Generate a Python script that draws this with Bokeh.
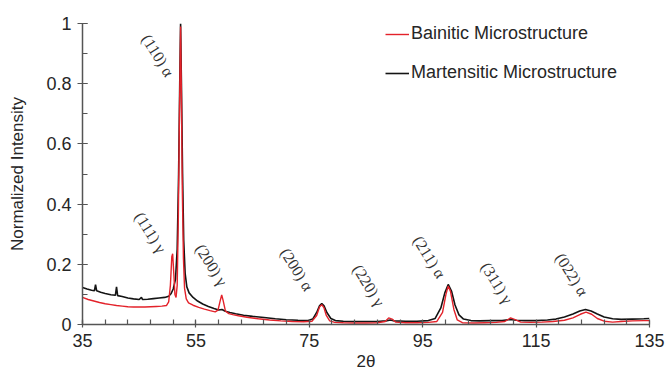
from bokeh.plotting import figure
from bokeh.models import FixedTicker, CustomJSTickFormatter, Legend, LegendItem
from bokeh.core.properties import value
from bokeh.embed import file_html
from bokeh.resources import INLINE

# Martensitic microstructure (black)
two_theta_m = [35.0, 35.8, 36.6, 37.1, 37.3, 37.5, 38.2, 39.0, 40.0, 40.8, 41.0, 41.2, 42.0, 43.0, 44.0,
               45.0, 45.4, 45.6, 46.5, 47.5, 48.5, 49.5, 50.2, 50.6, 51.0, 51.4, 51.7, 51.95, 52.15, 52.3,
               52.45, 52.65, 52.85, 53.1, 53.4, 53.8, 54.5, 55.3, 56.2, 57.2, 58.2, 59.0, 59.6, 60.2, 61.0,
               62.0, 63.4, 65.0, 67.0, 69.0, 71.0, 73.0, 74.8, 75.6, 76.3, 76.8, 77.2, 77.6, 78.1, 78.8,
               79.6, 81.0, 83.0, 85.0, 87.0, 88.5, 89.3, 90.0, 92.0, 94.0, 96.0, 97.2, 98.2, 98.9, 99.5,
               100.1, 100.7, 101.4, 102.2, 103.5, 105.0, 107.0, 109.0, 110.5, 111.5, 113.0, 115.0, 117.0,
               118.5, 120.0, 121.5, 122.7, 123.7, 124.7, 125.8, 127.0, 128.5, 130.0, 132.0, 134.0, 135.0]
intensity_m = [0.123, 0.118, 0.114, 0.112, 0.132, 0.112, 0.107, 0.103, 0.099, 0.097, 0.125, 0.096, 0.093, 0.088, 0.085,
               0.083, 0.090, 0.083, 0.084, 0.086, 0.088, 0.090, 0.094, 0.102, 0.118, 0.150, 0.250, 0.500, 0.800, 1.000,
               0.800, 0.500, 0.280, 0.170, 0.125, 0.105, 0.090, 0.078, 0.068, 0.060, 0.053, 0.048, 0.050, 0.044, 0.040,
               0.036, 0.031, 0.027, 0.023, 0.019, 0.016, 0.014, 0.013, 0.018, 0.040, 0.062, 0.070, 0.062, 0.040, 0.020,
               0.013, 0.011, 0.010, 0.010, 0.010, 0.012, 0.015, 0.012, 0.011, 0.011, 0.013, 0.020, 0.055, 0.105, 0.133,
               0.110, 0.065, 0.032, 0.018, 0.013, 0.012, 0.013, 0.013, 0.017, 0.014, 0.013, 0.013, 0.015,
               0.018, 0.025, 0.035, 0.045, 0.050, 0.045, 0.035, 0.025, 0.019, 0.017, 0.018, 0.019, 0.020]

# Bainitic microstructure (red)
two_theta_b = [35.0, 36.0, 37.0, 38.0, 39.0, 40.0, 41.0, 42.0, 43.0, 44.0, 45.0, 46.0, 47.0, 48.0, 49.0,
               49.8, 50.2, 50.5, 50.75, 50.9, 51.1, 51.3, 51.5, 51.7, 51.9, 52.1, 52.3, 52.45, 52.6, 52.8,
               53.0, 53.3, 53.7, 54.5, 55.5, 56.5, 57.5, 58.4, 58.9, 59.3, 59.55, 59.8, 60.2, 60.8, 61.5,
               62.5, 64.0, 66.0, 68.0, 70.0, 72.0, 74.0, 75.5, 76.3, 76.8, 77.2, 77.6, 78.0, 78.6, 79.5,
               81.0, 83.0, 85.0, 87.0, 88.4, 89.0, 89.6, 90.2, 92.0, 94.0, 96.0, 97.5, 98.5, 99.1, 99.5,
               99.9, 100.5, 101.1, 102.0, 104.0, 106.0, 108.0, 109.5, 110.5, 111.3, 112.3, 114.0, 116.0,
               118.0, 120.0, 121.5, 122.8, 123.8, 124.8, 125.8, 127.0, 128.5, 130.0, 132.0, 134.0, 135.0]
intensity_b = [0.090, 0.083, 0.078, 0.073, 0.069, 0.066, 0.063, 0.061, 0.059, 0.058, 0.058, 0.058, 0.059, 0.060, 0.061,
               0.063, 0.075, 0.130, 0.225, 0.235, 0.170, 0.100, 0.090, 0.130, 0.350, 0.700, 0.990, 0.750, 0.450, 0.220,
               0.120, 0.085, 0.072, 0.064, 0.057, 0.051, 0.046, 0.042, 0.048, 0.080, 0.098, 0.080, 0.045, 0.036, 0.033,
               0.029, 0.024, 0.019, 0.015, 0.012, 0.010, 0.009, 0.011, 0.030, 0.058, 0.066, 0.055, 0.030, 0.012, 0.007,
               0.006, 0.005, 0.005, 0.006, 0.010, 0.022, 0.018, 0.008, 0.006, 0.006, 0.007, 0.010, 0.040, 0.100, 0.128,
               0.110, 0.050, 0.015, 0.006, 0.005, 0.006, 0.007, 0.010, 0.022, 0.016, 0.008, 0.007, 0.008,
               0.010, 0.014, 0.022, 0.034, 0.041, 0.034, 0.020, 0.011, 0.008, 0.010, 0.012, 0.013, 0.013]

# Peak labels
peak_names = ["(111) γ", "(110) α", "(200) γ", "(200) α", "(220) γ", "(211) α", "(311) γ", "(022) α"]
peak_x = [47.0, 48.3, 57.75, 72.8, 85.5, 96.2, 108.1, 121.3]
peak_y = [0.306, 0.894, 0.198, 0.183, 0.130, 0.224, 0.138, 0.166]

x_ticks = [35, 55, 75, 95, 115, 135]
x_minor_ticks = [35 + 4 * i for i in range(26)]
y_ticks = [0, 0.2, 0.4, 0.6, 0.8, 1.0]
y_minor_ticks = [0.1 * i for i in range(11)]

p = figure(width=667, height=376, x_range=(35, 135), y_range=(0, 1),
           output_backend="svg", toolbar_location=None,
           min_border_left=82, min_border_right=18, min_border_top=23, min_border_bottom=52)
p.background_fill_color = "white"
p.border_fill_color = "white"
p.outline_line_color = None
p.grid.visible = False

black_r = p.line(two_theta_m, intensity_m, line_color="#141414", line_width=1.6)
red_r = p.line(two_theta_b, intensity_b, line_color="#e3222a", line_width=1.4)

p.text(x=peak_x, y=peak_y, text=peak_names, angle=-58, angle_units="deg",
       text_font=value("Liberation Serif"), text_font_size="16px",
       text_align="center", text_baseline="middle", text_color="#333333")

for ax in (p.xaxis[0], p.yaxis[0]):
    ax.axis_line_color = "#555555"
    ax.axis_line_width = 1.5
    ax.major_tick_line_color = "#555555"
    ax.minor_tick_line_color = "#555555"
    ax.major_tick_line_width = 1.2
    ax.minor_tick_line_width = 1.2
    ax.major_label_text_font = "Liberation Sans"
    ax.major_label_text_font_size = "18px"
    ax.major_label_text_color = "#262626"
    ax.axis_label_text_font = "Liberation Sans"
    ax.axis_label_text_font_style = "normal"
    ax.axis_label_text_color = "#262626"

p.xaxis.ticker = FixedTicker(ticks=x_ticks, minor_ticks=x_minor_ticks)
p.xaxis.major_tick_in = 4
p.xaxis.major_tick_out = 3
p.xaxis.minor_tick_in = 5
p.xaxis.minor_tick_out = 0
p.xaxis.major_label_standoff = 6
p.xaxis.axis_label = "2θ"
p.xaxis.axis_label_text_font_size = "17px"
p.xaxis.axis_label_standoff = 2

p.yaxis.ticker = FixedTicker(ticks=y_ticks, minor_ticks=y_minor_ticks)
p.yaxis.formatter = CustomJSTickFormatter(code="return String(Math.round(tick*10)/10);")
p.yaxis.major_tick_in = 5
p.yaxis.major_tick_out = 5
p.yaxis.minor_tick_in = 5
p.yaxis.minor_tick_out = 0
p.yaxis.major_label_standoff = 6
p.yaxis.axis_label = "Normalized Intensity"
p.yaxis.axis_label_text_font_size = "17px"
p.yaxis.axis_label_standoff = 16

legend = Legend(items=[LegendItem(label="Bainitic Microstructure", renderers=[red_r]),
                       LegendItem(label="Martensitic Microstructure", renderers=[black_r])],
                location=(303, 241), padding=0, margin=0, spacing=18,
                glyph_width=24, glyph_height=20, label_height=20, label_standoff=2,
                label_text_font="Liberation Sans", label_text_font_size="18px",
                label_text_color="#262626", border_line_color=None,
                background_fill_alpha=0)
p.add_layout(legend, "center")

open("out.html", "w").write(file_html(p, INLINE))
